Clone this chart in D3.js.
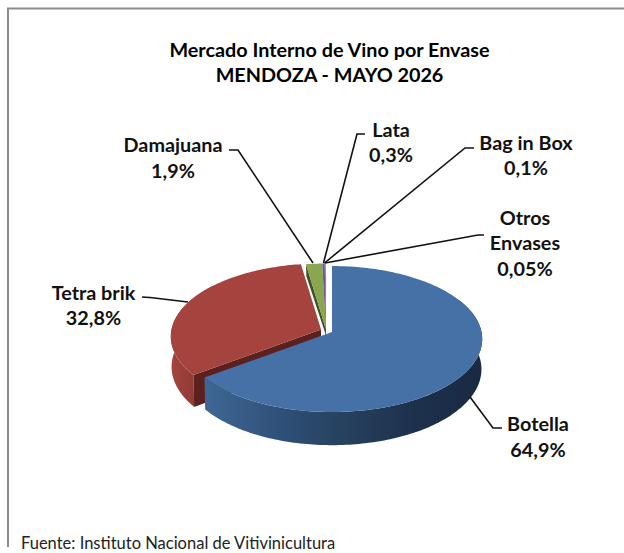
<!DOCTYPE html>
<html><head><meta charset="utf-8">
<script src="https://cdnjs.cloudflare.com/ajax/libs/d3/7.8.5/d3.min.js"></script>
<style>html,body{margin:0;padding:0;background:#fff}svg{display:block}</style>
</head><body><div id="c"></div>
<script>
const categories = ["Botella","Tetra brik","Damajuana","Lata","Bag in Box","Otros Envases"];
const values = [64.9,32.8,1.9,0.3,0.1,0.05];
const valueLabels = ["64,9%","32,8%","1,9%","0,3%","0,1%","0,05%"];
const colors = ["#4571a7","#a5433f","#8aa64e","#6f5596","#4198af","#f79646"];
const faceColors = ["#1e3350","#5c211f","#3f5022","#3f3055","#205060","#7a4a20"];
const titleLines = ["Mercado Interno de Vino por Envase","MENDOZA - MAYO 2026"];
const sourceText = "Fuente: Instituto Nacional de Vitivinicultura";

const W=624,H=553;
const svg=d3.select("#c").append("svg").attr("width",W).attr("height",H);
svg.append("path").attr("d",`M8 547V8.5H${W}`).attr("fill","none").attr("stroke","#8c8c8c").attr("stroke-width",2);

const font="Lato, Carlito, sans-serif";
const fs=19.8;
const titleY=[57,82];
titleLines.forEach((t,i)=>svg.append("text").attr("x",329.5).attr("y",titleY[i]).attr("text-anchor","middle")
  .attr("font-family",font).attr("font-weight",700).attr("font-size",fs).attr("fill","#000").text(t));
svg.append("text").attr("x",21).attr("y",549).attr("font-family",font).attr("font-size",16.5).attr("fill","#222").text(sourceText);

// pie angles through d3.pie, projected on a tilted disc with perspective
const arcs=d3.pie().sort(null).value(d=>d)(values);
const rx=149.5,ry=72.3,k=0.096,depth=30;
const centers=[[332,332],[321,329.5],[326,329.5],[326,329.5],[326,329.5],[326,329.5]];
function P(c,a,r=1,z=0){
  const u=Math.sin(a)*r,v=-Math.cos(a)*r,w=1/(1-k*v);
  return [c[0]+rx*u*w*(z?0.995:1),c[1]+ry*v*w+z*depth*w];
}
function rim(c,a0,a1,z=0){
  const n=Math.max(2,Math.ceil(Math.abs(a1-a0)/0.02));
  return d3.range(n+1).map(i=>P(c,a0+(a1-a0)*i/n,1,z));
}
const line=d3.line();
const defs=svg.append("defs");
const g=defs.append("linearGradient").attr("id","sideBlue").attr("gradientUnits","userSpaceOnUse")
 .attr("x1",204).attr("x2",482).attr("y1",0).attr("y2",0);
[[0,"#3f6795"],[0.3,"#2e4e75"],[0.5,"#27415f"],[0.75,"#1d314d"],[1,"#192a42"]].forEach(s=>g.append("stop").attr("offset",s[0]).attr("stop-color",s[1]));
const g2=defs.append("linearGradient").attr("id","sideRed").attr("gradientUnits","userSpaceOnUse")
 .attr("x1",171).attr("x2",195).attr("y1",0).attr("y2",0);
[[0,"#a5433f"],[1,"#8f3a36"]].forEach(s=>g2.append("stop").attr("offset",s[0]).attr("stop-color",s[1]));

const pie=svg.append("g");
// small slices at the back
[5,4,3,2].forEach(i=>{
  const a=arcs[i],c=centers[i];
  const p0=P(c,a.startAngle);
  pie.append("path").attr("d",line([c,[c[0],c[1]+6],[p0[0]+0.5,p0[1]+12],p0])+"Z").attr("fill",faceColors[i]);
  pie.append("path").attr("d",line([c,...rim(c,a.startAngle,a.endAngle)])+"Z").attr("fill",colors[i]);
});
// red slice
{
  const a=arcs[1],c=centers[1];
  const vis=Math.PI*1.72;
  pie.append("path").attr("d",line([...rim(c,a.startAngle,vis),...rim(c,vis,a.startAngle,1)])+"Z").attr("fill","url(#sideRed)");
  const tip=P(c,a.startAngle),tipB=P(c,a.startAngle,1,1),cB=[c[0],c[1]+depth];
  pie.append("path").attr("d",line([c,tip,tipB,cB])+"Z").attr("fill",faceColors[1]);
  pie.append("path").attr("d",line([c,...rim(c,a.startAngle,a.endAngle)])+"Z").attr("fill",colors[1]);
}
// blue slice
{
  const a=arcs[0],c=centers[0];
  const vis=Math.PI*0.35;
  pie.append("path").attr("d",line([...rim(c,vis,a.endAngle),...rim(c,a.endAngle,vis,1)])+"Z").attr("fill","url(#sideBlue)");
  pie.append("path").attr("d",line([c,...rim(c,a.startAngle,a.endAngle)])+"Z").attr("fill",colors[0]);
}

// leader lines
const leaders=[
 [[502,428],[493,428],[470,397]],
 [[142,297],[150,297.5],[188,302]],
 [[229,150],[238,150],[313,263]],
 [[365,134],[357,134],[323.5,263]],
 [[474,148],[465,148],[324.5,263]],
 [[484,235],[478,235],[325,263]]
];
leaders.forEach(l=>svg.append("path").attr("d",line(l)).attr("fill","none").attr("stroke","#111").attr("stroke-width",1.6));

// labels
const labelPos=[[538,[431,457]],[93.5,[300,325]],[173,[152,178]],[391,[137,162]],[526,[150,175]],[525,[225,250,276]]];
categories.forEach((name,i)=>{
  const parts=name==="Otros Envases"?name.split(" "):[name];
  const lines=[...parts,valueLabels[i]];
  lines.forEach((t,j)=>svg.append("text").attr("x",labelPos[i][0]).attr("y",labelPos[i][1][j]).attr("text-anchor","middle")
    .attr("font-family",font).attr("font-weight",700).attr("font-size",fs).attr("fill","#111").text(t));
});
</script></body></html>
